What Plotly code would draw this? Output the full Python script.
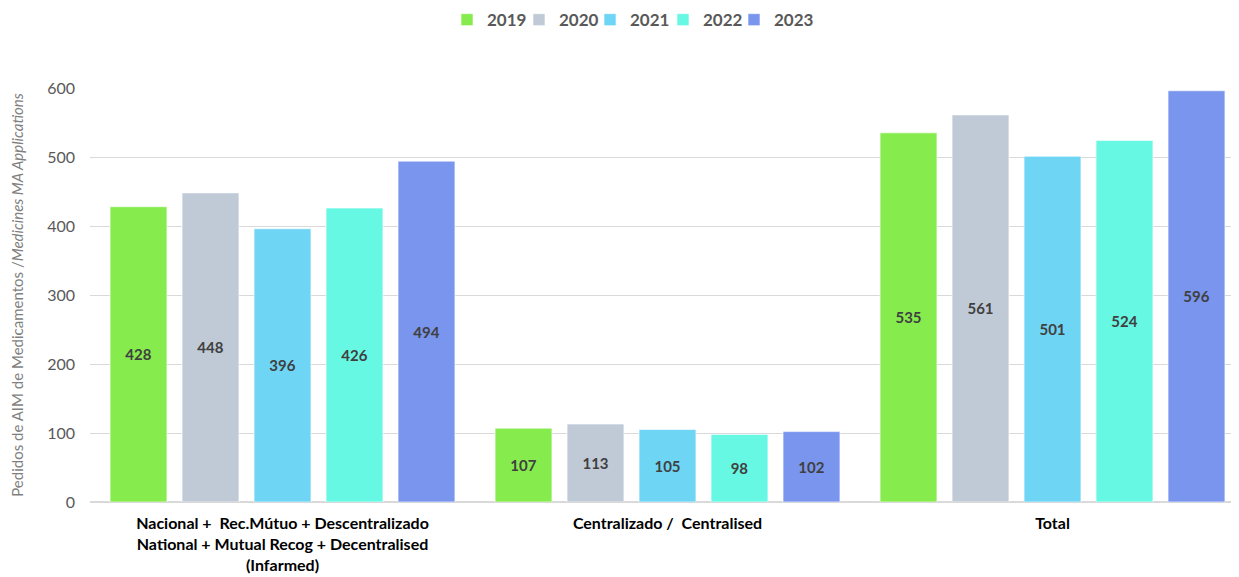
import plotly.graph_objects as go

# categories / series
categories = [
    "Nacional +  Rec.Mútuo + Descentralizado<br>National + Mutual Recog + Decentralised<br>(Infarmed)",
    "Centralizado /  Centralised",
    "Total",
]
years = ["2019", "2020", "2021", "2022", "2023"]
v2019 = [428, 107, 535]
v2020 = [448, 113, 561]
v2021 = [396, 105, 501]
v2022 = [426, 98, 524]
v2023 = [494, 102, 596]
values = [v2019, v2020, v2021, v2022, v2023]
colors = ["#86EC4E", "#C0CAD7", "#6ED5F5", "#67F8E4", "#7995EE"]

# one legend per year so the entries can sit tight like the original
legend_x = [439, 511, 582, 655, 726]  # px from left of figure

fig = go.Figure()
legends = {}
for i, (yr, vals, col) in enumerate(zip(years, values, colors)):
    lname = "legend" if i == 0 else "legend%d" % (i + 1)
    fig.add_bar(
        x=categories, y=vals, name=yr, legend=lname,
        marker=dict(color=col, line=dict(color="rgba(255,255,255,0.6)", width=1)),
        text=[str(v) for v in vals],
        textposition="inside", insidetextanchor="middle",
        textangle=0,
        textfont=dict(family="Lato, sans-serif", size=15, color="#404040", weight="bold"),
    )
    legends[lname] = dict(
        orientation="h", xref="container", x=legend_x[i] / 1239, xanchor="left",
        yref="container", y=0.979, yanchor="middle",
        font=dict(size=17, color="#595959", weight="bold"),
        itemwidth=30, bgcolor="rgba(0,0,0,0)",
    )

# page body has an 8px margin, so margins are shifted to compensate
fig.update_layout(
    width=1239, height=577,
    paper_bgcolor="white", plot_bgcolor="white",
    font=dict(family="Lato, sans-serif", color="#595959"),
    margin=dict(l=82, r=2, t=80, b=83, autoexpand=False),
    barmode="group", bargap=0.065, bargroupgap=0.21,
    showlegend=True,
    **legends,
)
fig.update_yaxes(
    range=[0, 600], dtick=100, showgrid=True, gridcolor="#D9D9D9", gridwidth=1,
    zeroline=True, zerolinecolor="#D9D9D9", ticks="", ticklen=0,
    ticklabelstandoff=14,
    tickfont=dict(size=16, color="#595959"),
    title=dict(text="Pedidos de AIM de Medicamentos /<i>Medicines MA Applications</i>",
               font=dict(size=15, color="#7F7F7F"), standoff=22),
)
fig.update_xaxes(
    showline=False, ticks="", range=[-0.5, 2.5],
    ticklabelstandoff=10,
    tickfont=dict(size=16, color="#000000", weight="bold"),
)

fig.write_html("out.html")
